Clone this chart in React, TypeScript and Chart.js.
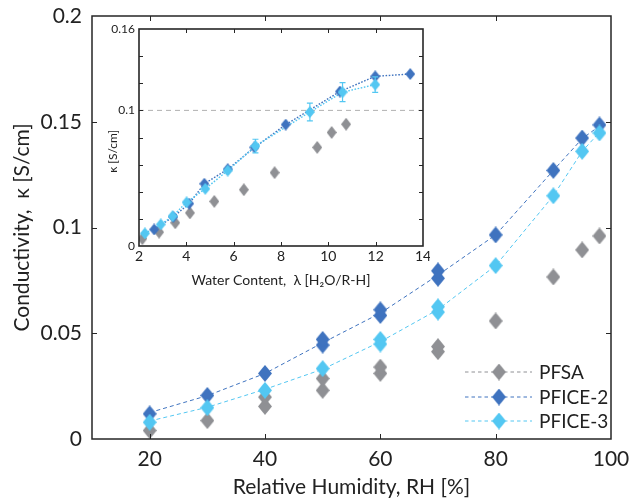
import React, { useEffect, useRef } from 'react';
import { Chart, registerables } from 'chart.js';

Chart.register(...registerables);

// ---------- main chart data (conductivity vs relative humidity) ----------
const rh = [20, 30, 40, 50, 60, 70, 80, 90, 95, 98];
const pfsaRun1 = [0.004, 0.0087, 0.0198, 0.0286, 0.034, 0.0437, 0.0558, 0.0766, 0.0894, 0.096];
const pfsaRun2 = [null, null, 0.0154, 0.023, 0.031, 0.0413, null, null, null, null];
const pfice2Run1 = [0.0119, 0.0206, 0.031, 0.0471, 0.0611, 0.0795, 0.0965, 0.127, 0.1423, 0.1485];
const pfice2Run2 = [null, null, null, 0.0444, 0.0584, 0.0760, null, null, null, null];
const pfice2Trend = [0.0125, 0.0205, 0.031, 0.0455, 0.0595, 0.0775, 0.0965, 0.127, 0.142, 0.148];
const pfice3Run1 = [0.0079, 0.0148, 0.023, 0.0333, 0.0471, 0.0625, 0.082, 0.115, 0.136, 0.1447];
const pfice3Run2 = [null, null, null, null, 0.0449, 0.0600, null, null, null, null];
const pfice3Trend = [0.0085, 0.015, 0.0235, 0.033, 0.046, 0.0612, 0.082, 0.115, 0.136, 0.145];
const mainXTicks = [20, 40, 60, 80, 100];
const mainYTicks = [0, 0.05, 0.1, 0.15, 0.2];
const seriesNames = ['PFSA', 'PFICE-2', 'PFICE-3'];

// ---------- inset data (conductivity vs water content) ----------
const lambdaPfsa = [2.14, 2.85, 3.53, 4.15, 5.18, 6.43, 7.73, 9.53, 10.14, 10.75];
const kappaPfsa = [0.0054, 0.0102, 0.0171, 0.0244, 0.0329, 0.0415, 0.0541, 0.0727, 0.0837, 0.0898];
const lambdaPfice2 = [2.64, 3.45, 4.12, 4.76, 5.75, 6.88, 8.2, 10.49, 11.98, 13.46];
const kappaPfice2 = [0.0122, 0.0215, 0.0312, 0.0459, 0.0566, 0.0727, 0.0895, 0.1139, 0.1251, 0.1268];
const lambdaPfice3 = [2.25, 2.92, 3.42, 4.01, 4.8, 5.75, 6.92, 9.22, 10.6, 11.98];
const kappaPfice3 = [0.0093, 0.0159, 0.022, 0.0322, 0.0422, 0.0556, 0.0737, 0.0988, 0.1134, 0.119];
const errPfice3 = [0, 0, 0, 0, 0, 0, 0.005, 0.0066, 0.007, 0.0057];
const insetXTicks = [2, 4, 6, 8, 10, 12, 14];
const insetYTicks = [0, 0.02, 0.04, 0.06, 0.08, 0.1, 0.12, 0.14, 0.16];
const insetYLabels = [0, 0.1, 0.16];
const insetRefLine = 0.1;

const GRAY = '#8f9094';
const DARK = '#3f73bf';
const LIGHT = '#53c7f2';
const TEXT = '#222222';
const FAMILY = 'Lato, "Noto Sans", "DejaVu Sans", sans-serif';

function diamond(color: string, w: number, h: number) {
  const c = document.createElement('canvas');
  c.width = w;
  c.height = h;
  const g = c.getContext('2d')!;
  g.fillStyle = color;
  g.beginPath();
  g.moveTo(w / 2, 0);
  g.lineTo(w, h / 2);
  g.lineTo(w / 2, h);
  g.lineTo(0, h / 2);
  g.closePath();
  g.fill();
  return c;
}

function zip(xs: number[], ys: (number | null)[]) {
  const out: { x: number; y: number }[] = [];
  xs.forEach((x, i) => {
    const y = ys[i];
    if (y !== null && y !== undefined) out.push({ x, y });
  });
  return out;
}

function drawFrame(chart: any, xTicks: number[], yTicks: number[], tl: number, lw: number) {
  const { ctx, chartArea: a, scales } = chart;
  const xs = scales.x;
  const ys = scales.y;
  ctx.save();
  ctx.strokeStyle = '#262626';
  ctx.lineWidth = 1;
  ctx.beginPath();
  xTicks.forEach((v) => {
    const px = Math.round(xs.getPixelForValue(v)) + 0.5;
    if (px <= a.left + 2 || px >= a.right - 2) return;
    ctx.moveTo(px, a.bottom);
    ctx.lineTo(px, a.bottom - tl);
    ctx.moveTo(px, a.top);
    ctx.lineTo(px, a.top + tl);
  });
  yTicks.forEach((v) => {
    const py = Math.round(ys.getPixelForValue(v)) + 0.5;
    if (py <= a.top + 2 || py >= a.bottom - 2) return;
    ctx.moveTo(a.left, py);
    ctx.lineTo(a.left + tl, py);
    ctx.moveTo(a.right, py);
    ctx.lineTo(a.right - tl, py);
  });
  ctx.stroke();
  ctx.lineWidth = lw;
  ctx.strokeRect(a.left, a.top, a.right - a.left, a.bottom - a.top);
  ctx.restore();
}

export default function App() {
  const mainRef = useRef<HTMLCanvasElement>(null);
  const insetRef = useRef<HTMLCanvasElement>(null);

  useEffect(() => {
    document.body.style.margin = '0';
    const grayBig = diamond(GRAY, 14, 17);
    const darkBig = diamond(DARK, 14, 17);
    const lightBig = diamond(LIGHT, 14, 17);
    const graySmall = diamond(GRAY, 10, 13);
    const darkSmall = diamond(DARK, 10, 12);
    const lightSmall = diamond(LIGHT, 10, 12);
    const legendStyles = [
      { color: GRAY, img: grayBig },
      { color: DARK, img: darkBig },
      { color: LIGHT, img: lightBig },
    ];

    const mainPlugin = {
      id: 'mainFrame',
      afterDraw(chart: any) {
        drawFrame(chart, mainXTicks, mainYTicks, 5, 1.5);
        const { ctx, chartArea: a } = chart;
        ctx.save();
        const rowsY = [a.bottom - 67, a.bottom - 42, a.bottom - 18];
        seriesNames.forEach((name, i) => {
          const yy = rowsY[i];
          const st = legendStyles[i];
          ctx.strokeStyle = st.color;
          ctx.lineWidth = 1;
          ctx.setLineDash([3.5, 3]);
          ctx.beginPath();
          ctx.moveTo(a.right - 146, yy);
          ctx.lineTo(a.right - 79, yy);
          ctx.stroke();
          ctx.setLineDash([]);
          ctx.drawImage(st.img, a.right - 112 - st.img.width / 2, yy - st.img.height / 2);
          ctx.fillStyle = TEXT;
          ctx.font = `19px ${FAMILY}`;
          ctx.textAlign = 'left';
          ctx.textBaseline = 'middle';
          ctx.fillText(name, a.right - 72, yy + 1);
        });
        ctx.restore();
      },
    };

    const main = new Chart(mainRef.current!, {
      type: 'scatter',
      data: {
        datasets: [
          { label: 'PFSA', data: zip(rh, pfsaRun1), showLine: false, pointStyle: grayBig as any, pointRadius: 7, order: 3 },
          { label: 'PFSA b', data: zip(rh, pfsaRun2), showLine: false, pointStyle: grayBig as any, pointRadius: 7, order: 3 },
          { label: 'PFICE-2 line', data: zip(rh, pfice2Trend), showLine: true, borderColor: DARK, borderWidth: 1, borderDash: [4, 3], pointRadius: 0, order: 6 },
          { label: 'PFICE-2', data: zip(rh, pfice2Run1), showLine: false, pointStyle: darkBig as any, pointRadius: 7, order: 2 },
          { label: 'PFICE-2 b', data: zip(rh, pfice2Run2), showLine: false, pointStyle: darkBig as any, pointRadius: 7, order: 2 },
          { label: 'PFICE-3 line', data: zip(rh, pfice3Trend), showLine: true, borderColor: LIGHT, borderWidth: 1, borderDash: [4, 3], pointRadius: 0, order: 5 },
          { label: 'PFICE-3', data: zip(rh, pfice3Run1), showLine: false, pointStyle: lightBig as any, pointRadius: 7, order: 1 },
          { label: 'PFICE-3 b', data: zip(rh, pfice3Run2), showLine: false, pointStyle: lightBig as any, pointRadius: 7, order: 1 },
        ] as any,
      },
      options: {
        animation: false,
        responsive: false,
        maintainAspectRatio: false,
        layout: { padding: { top: 16, right: 18, left: 0, bottom: 0 } },
        plugins: { legend: { display: false }, tooltip: { enabled: false } },
        scales: {
          x: {
            type: 'linear',
            min: 10,
            max: 100,
            afterBuildTicks: (s: any) => { s.ticks = mainXTicks.map((v) => ({ value: v })); },
            afterFit: (s: any) => { s.height = 63; s.paddingLeft = 0; s.paddingRight = 0; },
            grid: { display: false, drawTicks: false },
            border: { display: false },
            ticks: { padding: 8, color: TEXT, font: { family: FAMILY, size: 21 }, maxRotation: 0, autoSkip: false, callback: (v: any) => String(v) },
            title: { display: true, text: 'Relative Humidity, RH [%]', color: TEXT, font: { family: FAMILY, size: 21 }, padding: { top: 0, bottom: 2 } },
          },
          y: {
            type: 'linear',
            min: 0,
            max: 0.2,
            afterBuildTicks: (s: any) => { s.ticks = mainYTicks.map((v) => ({ value: v })); },
            afterFit: (s: any) => { s.width = 92; s.paddingTop = 0; s.paddingBottom = 0; },
            grid: { display: false, drawTicks: false },
            border: { display: false },
            ticks: { padding: 10, color: TEXT, font: { family: FAMILY, size: 21 }, autoSkip: false, callback: (v: any) => String(v) },
            title: { display: true, text: 'Conductivity,  κ [S/cm]', color: TEXT, font: { family: FAMILY, size: 21 }, padding: { top: 10, bottom: 0 } },
          },
        },
      } as any,
      plugins: [mainPlugin],
    });

    const insetPlugin = {
      id: 'insetFrame',
      beforeDatasetsDraw(chart: any) {
        const { ctx, chartArea: a, scales } = chart;
        const py = scales.y.getPixelForValue(insetRefLine);
        ctx.save();
        ctx.strokeStyle = '#b0b0b0';
        ctx.lineWidth = 1;
        ctx.setLineDash([5, 4]);
        ctx.beginPath();
        ctx.moveTo(a.left, py);
        ctx.lineTo(a.right, py);
        ctx.stroke();
        ctx.restore();
      },
      afterDatasetsDraw(chart: any) {
        const { ctx, scales } = chart;
        ctx.save();
        ctx.strokeStyle = LIGHT;
        ctx.lineWidth = 1.2;
        ctx.beginPath();
        lambdaPfice3.forEach((l, i) => {
          const e = errPfice3[i];
          if (!e) return;
          const px = scales.x.getPixelForValue(l);
          const p1 = scales.y.getPixelForValue(kappaPfice3[i] - e);
          const p2 = scales.y.getPixelForValue(kappaPfice3[i] + e);
          ctx.moveTo(px, p1);
          ctx.lineTo(px, p2);
          ctx.moveTo(px - 3, p1);
          ctx.lineTo(px + 3, p1);
          ctx.moveTo(px - 3, p2);
          ctx.lineTo(px + 3, p2);
        });
        ctx.stroke();
        ctx.restore();
      },
      afterDraw(chart: any) {
        drawFrame(chart, insetXTicks, insetYTicks, 4, 1.6);
      },
    };

    const inset = new Chart(insetRef.current!, {
      type: 'scatter',
      data: {
        datasets: [
          { label: 'PFSA', data: zip(lambdaPfsa, kappaPfsa), showLine: false, pointStyle: graySmall as any, pointRadius: 5, order: 3 },
          { label: 'PFICE-2 line', data: zip(lambdaPfice2, kappaPfice2), showLine: true, borderColor: DARK, borderWidth: 1.4, borderDash: [1.6, 1.6], pointRadius: 0, order: 6 },
          { label: 'PFICE-2', data: zip(lambdaPfice2, kappaPfice2), showLine: false, pointStyle: darkSmall as any, pointRadius: 5, order: 2 },
          { label: 'PFICE-3 line', data: zip(lambdaPfice3, kappaPfice3), showLine: true, borderColor: LIGHT, borderWidth: 1.4, borderDash: [1.6, 1.6], pointRadius: 0, order: 5 },
          { label: 'PFICE-3', data: zip(lambdaPfice3, kappaPfice3), showLine: false, pointStyle: lightSmall as any, pointRadius: 5, order: 1 },
        ] as any,
      },
      options: {
        animation: false,
        responsive: false,
        maintainAspectRatio: false,
        layout: { padding: { top: 11, right: 7, left: 0, bottom: 0 } },
        plugins: { legend: { display: false }, tooltip: { enabled: false } },
        scales: {
          x: {
            type: 'linear',
            min: 2,
            max: 14,
            afterBuildTicks: (s: any) => { s.ticks = insetXTicks.map((v) => ({ value: v })); },
            afterFit: (s: any) => { s.height = 44; s.paddingLeft = 0; s.paddingRight = 0; },
            grid: { display: false, drawTicks: false },
            border: { display: false },
            ticks: { padding: 2, color: TEXT, font: { family: FAMILY, size: 14 }, maxRotation: 0, autoSkip: false, callback: (v: any) => String(v) },
            title: { display: true, text: 'Water Content,  λ [H₂O/R-H]', color: TEXT, font: { family: FAMILY, size: 14 }, padding: { top: 0, bottom: 1 } },
          },
          y: {
            type: 'linear',
            min: 0,
            max: 0.16,
            afterBuildTicks: (s: any) => { s.ticks = insetYTicks.map((v) => ({ value: v })); },
            afterFit: (s: any) => { s.width = 39; s.paddingTop = 0; s.paddingBottom = 0; },
            grid: { display: false, drawTicks: false },
            border: { display: false },
            ticks: {
              padding: 4,
              color: TEXT,
              font: { family: FAMILY, size: 12 },
              autoSkip: false,
              callback: (v: any) => (insetYLabels.some((l) => Math.abs(l - v) < 1e-9) ? String(v) : ''),
            },
            title: { display: true, text: 'κ [S/cm]' + ' '.repeat(9), color: TEXT, font: { family: FAMILY, size: 12 }, padding: { top: 6, bottom: 0 } },
          },
        },
      } as any,
      plugins: [insetPlugin],
    });

    return () => {
      main.destroy();
      inset.destroy();
    };
  }, []);

  return (
    <div style={{ position: 'relative', width: 629, height: 502, background: '#fff' }}>
      <canvas ref={mainRef} width={629} height={502} style={{ position: 'absolute', left: 0, top: 0 }} />
      <canvas ref={insetRef} width={330} height={272} style={{ position: 'absolute', left: 100, top: 18 }} />
    </div>
  );
}
